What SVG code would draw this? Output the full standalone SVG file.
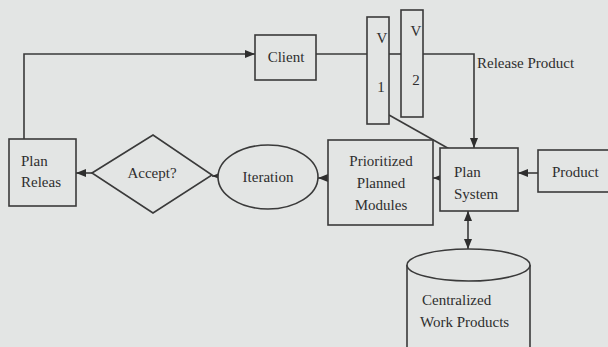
<svg xmlns="http://www.w3.org/2000/svg" width="608" height="347" viewBox="0 0 608 347">
<defs>
<style>
.s{fill:none;stroke:#3a3a3a;stroke-width:1.6}
.b{fill:#e3e5e4;stroke:#3a3a3a;stroke-width:1.6}
.t{font-family:"Liberation Serif","Times New Roman",serif;font-size:15px;fill:#2e2e2e}
.c{text-anchor:middle}
</style>
<marker id="ah" viewBox="0 0 10 10" refX="10" refY="5" markerWidth="10" markerHeight="10" orient="auto-start-reverse" markerUnits="userSpaceOnUse">
<path d="M0,1 L10,5 L0,9 Z" fill="#2e2e2e"/>
</marker>
</defs>
<rect width="608" height="347" fill="#e3e5e4"/>
<g id="connectors">
<path class="s" d="M24,139 V54 H255" marker-end="url(#ah)"/>
<path class="s" d="M316,54 H367"/>
<path class="s" d="M389,54 H401"/>
<path class="s" d="M423,54 H474 V148" marker-end="url(#ah)"/>
<path class="s" d="M389,115 L460,155"/>
<path class="s" d="M538,173 H518" marker-end="url(#ah)"/>
<path class="s" d="M440,178 H433" marker-end="url(#ah)"/>
<path class="s" d="M328,178 H318" marker-end="url(#ah)"/>
<path class="s" d="M219,176 H212" marker-end="url(#ah)"/>
<path class="s" d="M92,173 H76" marker-end="url(#ah)"/>
<path class="s" d="M468,211 V249" marker-start="url(#ah)" marker-end="url(#ah)"/>
</g>
<g id="client">
<rect class="b" x="255" y="35" width="61" height="45"/>
<text class="t c" x="286" y="62">Client</text>
</g>
<g id="v1">
<rect class="b" x="367" y="17" width="22" height="107"/>
<text class="t c" x="382" y="43">V</text>
<text class="t c" x="381" y="92">1</text>
</g>
<g id="v2">
<rect class="b" x="401" y="10" width="22" height="107"/>
<text class="t c" x="416" y="36">V</text>
<text class="t c" x="416" y="85">2</text>
</g>
<g id="release-label">
<text class="t" x="477" y="68">Release Product</text>
</g>
<g id="plan-releas">
<rect class="b" x="9" y="139" width="67" height="67"/>
<text class="t" x="21" y="166">Plan</text>
<text class="t" x="21" y="187">Releas</text>
</g>
<g id="accept">
<polygon class="b" points="92,173 153,135 212,175 153,213"/>
<text class="t c" x="152" y="178">Accept?</text>
</g>
<g id="iteration">
<ellipse class="b" cx="268" cy="177" rx="50" ry="32"/>
<text class="t c" x="268" y="182">Iteration</text>
</g>
<g id="modules">
<rect class="b" x="328" y="140" width="105" height="85"/>
<text class="t c" x="381" y="166">Prioritized</text>
<text class="t c" x="381" y="188">Planned</text>
<text class="t c" x="381" y="210">Modules</text>
</g>
<g id="plan-system">
<rect class="b" x="440" y="148" width="78" height="63"/>
<text class="t" x="454" y="177">Plan</text>
<text class="t" x="454" y="199">System</text>
</g>
<g id="product">
<rect class="b" x="538" y="150" width="75" height="42"/>
<text class="t" x="552" y="177">Product</text>
</g>
<g id="centralized">
<path class="b" d="M407,265 V350 H530 V265"/>
<ellipse class="b" cx="468.5" cy="265" rx="61.5" ry="16"/>
<text class="t" x="422" y="305">Centralized</text>
<text class="t" x="420" y="327">Work Products</text>
</g>
</svg>
